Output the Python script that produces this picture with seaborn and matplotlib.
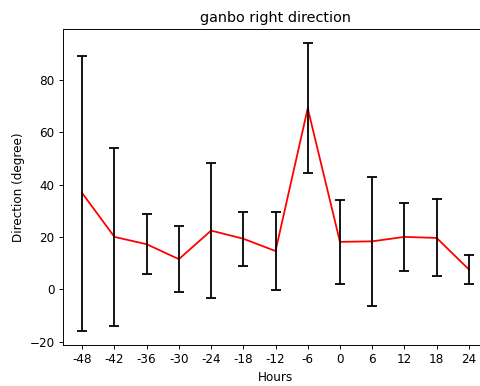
import matplotlib
matplotlib.use("Agg")
import matplotlib.pyplot as plt
import seaborn as sns
import numpy as np

hours = [-48, -42, -36, -30, -24, -18, -12, -6, 0, 6, 12, 18, 24]
means = [36.7, 20.0, 17.2, 11.5, 22.4, 19.3, 14.6, 69.1, 18.1, 18.3, 20.0, 19.6, 7.6]
stds = [52.5, 34.0, 11.4, 12.7, 25.8, 10.3, 15.0, 24.8, 16.0, 24.6, 12.9, 14.7, 5.6]

DPI = 86
fig = plt.figure(figsize=(480 / DPI, 386 / DPI), dpi=DPI)
ax = fig.add_axes([0.131, 0.1062, 0.886, 0.8187])

sns.lineplot(x=hours, y=means, color="red", ax=ax)
ax.errorbar(hours, means, yerr=stds, fmt="none", ecolor="black", capsize=4, elinewidth=1.5, capthick=1.5)

ax.set_xticks(hours)
ax.set_xticklabels([str(h) for h in hours])
ax.set_title("ganbo right direction")
ax.set_xlabel("Hours")
ax.set_ylabel("Direction (degree)")

fig.savefig("out.png", dpi=DPI)
